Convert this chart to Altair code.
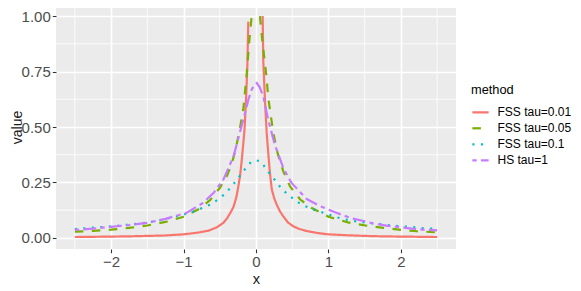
import altair as alt
import pandas as pd

methods = ["FSS tau=0.01", "FSS tau=0.05", "FSS tau=0.1", "HS tau=1"]
colors = ["#F8766D", "#7CAE00", "#00BFC4", "#C77CFF"]
dashes = [[1, 0], [8.5, 8.5], [2.1, 6.4], [4.3, 4.3, 12.8, 4.3]]

# FSS tau=0.01 (two branches, the peak leaves the plotted range)
red_left_x = [-2.5, -2.25, -2.0, -1.75, -1.5, -1.25, -1.0, -0.8, -0.65, -0.54, -0.45, -0.4,
              -0.35, -0.31, -0.27, -0.245, -0.22, -0.2, -0.18, -0.16, -0.138, -0.12, -0.106]
red_left_y = [0.004, 0.005, 0.006, 0.007, 0.009, 0.011, 0.016, 0.024, 0.033, 0.048, 0.068, 0.088,
              0.115, 0.14, 0.185, 0.23, 0.28, 0.34, 0.41, 0.48, 0.62, 0.77, 0.975]
red_right_x = [0.092, 0.1, 0.124, 0.148, 0.17, 0.19, 0.217, 0.25, 0.286, 0.33, 0.377, 0.44,
               0.515, 0.6, 0.7, 0.85, 1.0, 1.25, 1.5, 1.75, 2.0, 2.25, 2.5]
red_right_y = [1.0, 0.8, 0.62, 0.47, 0.38, 0.3, 0.22, 0.18, 0.15, 0.12, 0.097, 0.07,
               0.052, 0.04, 0.031, 0.022, 0.016, 0.012, 0.009, 0.007, 0.006, 0.005, 0.004]

# FSS tau=0.05
green_left_x = [-2.5, -2.25, -2.0, -1.75, -1.5, -1.25, -1.0, -0.8, -0.635, -0.5, -0.4, -0.33,
                -0.28, -0.23, -0.175, -0.128, -0.092, -0.06]
green_left_y = [0.028, 0.032, 0.037, 0.045, 0.056, 0.072, 0.095, 0.128, 0.17, 0.225, 0.28, 0.34,
                0.4, 0.48, 0.58, 0.74, 0.89, 1.0]
green_right_x = [0.055, 0.087, 0.14, 0.17, 0.24, 0.3, 0.377, 0.47, 0.61, 0.77, 1.0, 1.27,
                 1.53, 1.76, 2.0, 2.22, 2.5]
green_right_y = [1.0, 0.89, 0.74, 0.63, 0.47, 0.38, 0.3, 0.232, 0.173, 0.135, 0.095, 0.07,
                 0.055, 0.045, 0.036, 0.03, 0.025]

# FSS tau=0.1
cyan_x = [-2.5, -2.25, -2.0, -1.75, -1.5, -1.25, -1.0, -0.85, -0.74, -0.63, -0.53, -0.44,
          -0.36, -0.28, -0.21, -0.14, -0.07, 0.0, 0.06, 0.134, 0.2, 0.276, 0.345, 0.43,
          0.53, 0.63, 0.74, 0.86, 0.985, 1.07, 1.18, 1.3, 1.43, 1.66, 1.77, 1.89, 2.01,
          2.13, 2.25, 2.37, 2.5]
cyan_y = [0.04, 0.046, 0.052, 0.06, 0.069, 0.085, 0.105, 0.12, 0.135, 0.15, 0.172, 0.195,
          0.223, 0.255, 0.285, 0.315, 0.342, 0.35, 0.345, 0.315, 0.285, 0.255, 0.225, 0.198,
          0.172, 0.15, 0.135, 0.12, 0.108, 0.097, 0.087, 0.079, 0.072, 0.064, 0.06, 0.055, 0.052,
          0.05, 0.045, 0.042, 0.041]

# HS tau=1
purple_x = [-2.5, -2.25, -2.0, -1.75, -1.5, -1.25, -0.957, -0.73, -0.58, -0.45, -0.31, -0.2,
            -0.15, -0.106, -0.06, -0.02, 0.01, 0.05, 0.1, 0.17, 0.26, 0.377, 0.49, 0.7, 0.907,
            1.11, 1.32, 1.5, 1.62, 1.8, 2.0, 2.15, 2.31, 2.5]
purple_y = [0.036, 0.042, 0.05, 0.058, 0.068, 0.086, 0.113, 0.158, 0.205, 0.263, 0.368, 0.503,
            0.565, 0.623, 0.668, 0.692, 0.698, 0.68, 0.638, 0.53, 0.42, 0.315, 0.248, 0.175, 0.14,
            0.113, 0.088, 0.075, 0.065, 0.055, 0.048, 0.042, 0.037, 0.034]

minor_x = [-2.5, -1.5, -0.5, 0.5, 1.5, 2.5]
minor_y = [0.125, 0.375, 0.625, 0.875]
major_x = [-2, -1, 0, 1, 2]
major_y = [0.0, 0.25, 0.5, 0.75, 1.0]

rows = []
def add(method, seg, xs, ys):
    for a, b in zip(xs, ys):
        rows.append({"method": method, "seg": seg, "x": a, "value": b})

add(methods[0], "L", red_left_x, red_left_y)
add(methods[0], "R", red_right_x, red_right_y)
add(methods[1], "L", green_left_x, green_left_y)
add(methods[1], "R", green_right_x, green_right_y)
add(methods[2], "A", cyan_x, cyan_y)
add(methods[3], "A", purple_x, purple_y)
df = pd.DataFrame(rows)

FONT = "Liberation Sans"
xscale = alt.Scale(domain=[-2.76, 2.76], nice=False, zero=False)
yscale = alt.Scale(domain=[-0.05, 1.05], nice=False, zero=False)

xaxis = alt.Axis(values=major_x, labelExpr="datum.value < 0 ? '\u2212' + format(-datum.value, 'd') : format(datum.value, 'd')",
                 grid=True, gridColor="white", gridWidth=1.6, domain=False,
                 tickSize=3.7, tickColor="#333333", tickWidth=1.07,
                 labelColor="#4D4D4D", labelFontSize=15, labelPadding=2,
                 titleFontSize=14.67, titleFontWeight="normal", titleColor="#1A1A1A", titlePadding=2)
yaxis = alt.Axis(values=major_y, format=".2f",
                 grid=True, gridColor="white", gridWidth=1.6, domain=False,
                 tickSize=3.7, tickColor="#333333", tickWidth=1.07,
                 labelColor="#4D4D4D", labelFontSize=15, labelPadding=2,
                 titleFontSize=14, titleFontWeight="normal", titleColor="#1A1A1A",
                 titleX=-35, titleY=122, titleAngle=270, titleAlign="center", titleBaseline="alphabetic")

minor_x_layer = alt.Chart(pd.DataFrame({"x": minor_x})).mark_rule(color="white", strokeWidth=0.8).encode(
    x=alt.X("x:Q", scale=xscale, axis=xaxis, title="x"))
minor_y_layer = alt.Chart(pd.DataFrame({"value": minor_y})).mark_rule(color="white", strokeWidth=0.8).encode(
    y=alt.Y("value:Q", scale=yscale, axis=yaxis, title="value"))

legend = alt.Legend(title="method", orient="none", legendX=415, legendY=79,
                    symbolType="stroke", symbolSize=264, symbolStrokeWidth=2.2,
                    labelFontSize=12, labelColor="black", labelOffset=7.5,
                    titleFontSize=12.8, titleFontWeight="normal", titleColor="black",
                    titlePadding=6, rowPadding=0, padding=0)

lines = alt.Chart(df).mark_line(strokeWidth=2.2, strokeCap="butt").encode(
    x=alt.X("x:Q", scale=xscale, axis=xaxis, title="x"),
    y=alt.Y("value:Q", scale=yscale, axis=yaxis, title="value"),
    color=alt.Color("method:N", scale=alt.Scale(domain=methods, range=colors), legend=legend),
    strokeDash=alt.StrokeDash("method:N", scale=alt.Scale(domain=methods, range=dashes), legend=legend),
    detail="seg:N",
)

chart = alt.layer(minor_x_layer, minor_y_layer, lines).properties(
    width=400, height=244,
    padding={"left": 48, "top": -3, "right": 117, "bottom": 42},
    autosize=alt.AutoSizeParams(type="none"),
).configure(font=FONT).configure_view(fill="#EBEBEB", stroke=None).configure_axis(
    titleFontWeight="normal").configure_legend(titleFontWeight="normal")

chart.save("out.html", embed_options={"renderer": "svg", "actions": False})
